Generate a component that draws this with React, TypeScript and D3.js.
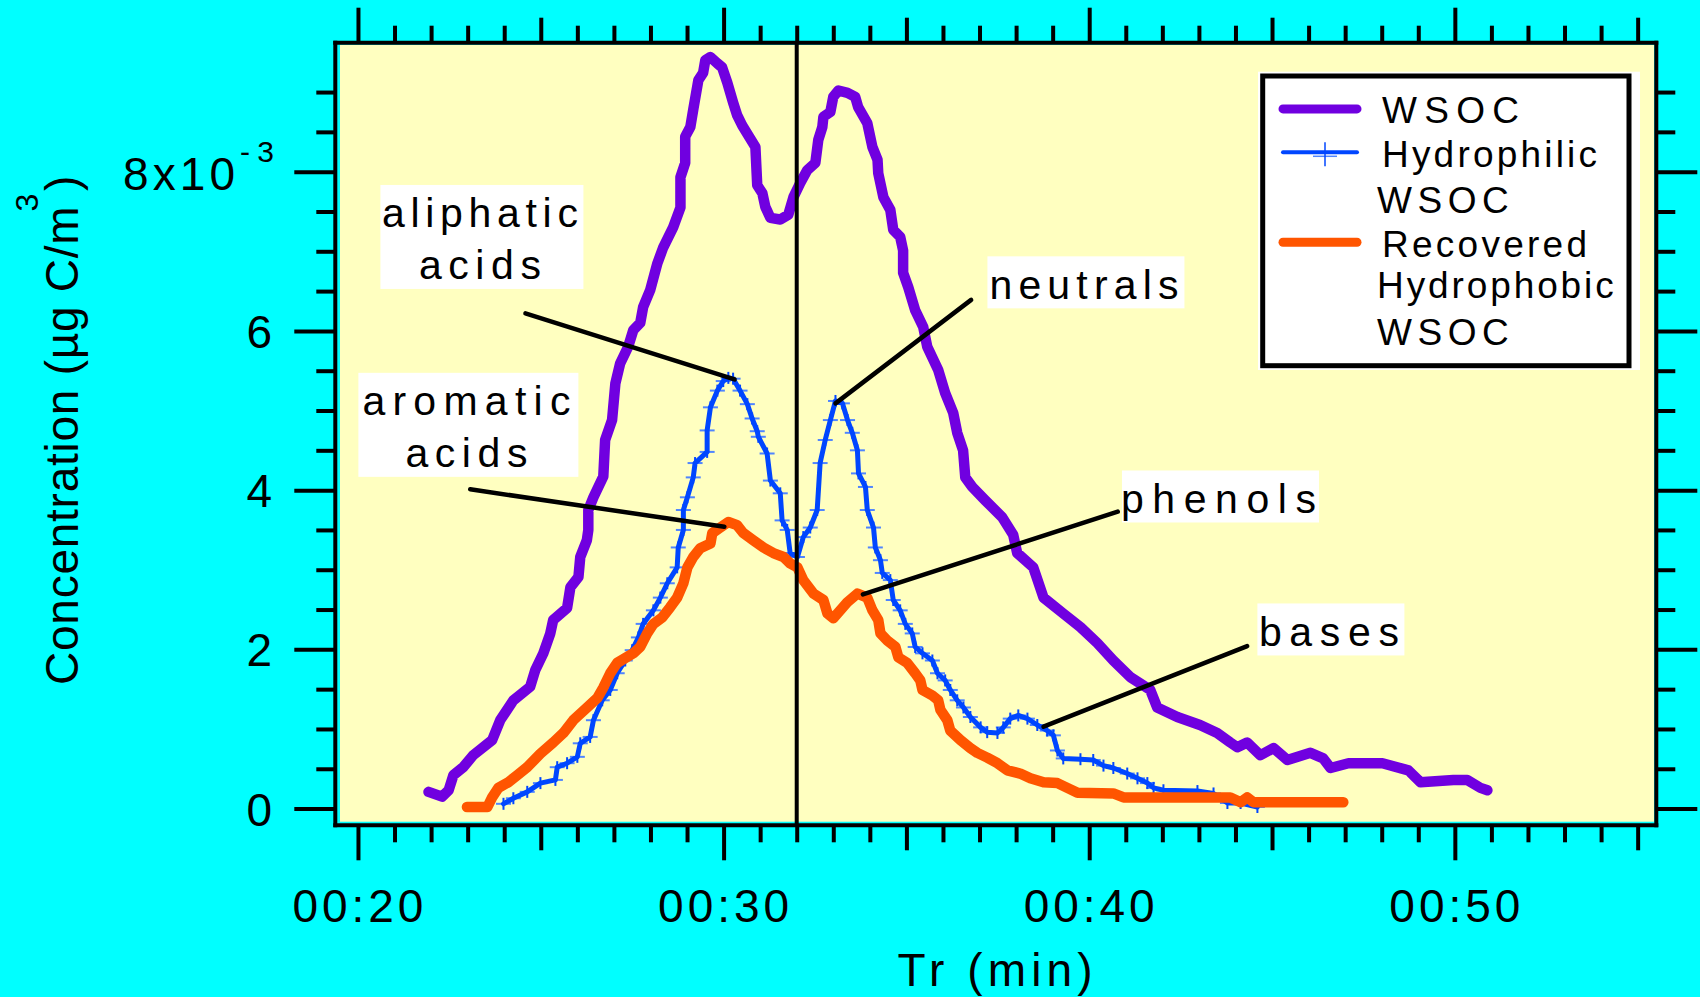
import { useEffect, useRef } from "react";
import * as d3 from "d3";

// Tr (min) vs concentration (x10^-3 µg C/m3)
const wsoc: [number, number][] = [
  [21.93, 0.21], [22.3, 0.15], [22.48, 0.23], [22.61, 0.42], [22.88, 0.52], [23.15, 0.67], [23.67, 0.86],
  [23.89, 1.11], [24.25, 1.36], [24.71, 1.53], [24.85, 1.74], [25.07, 1.95], [25.26, 2.2], [25.34, 2.37],
  [25.72, 2.52], [25.81, 2.78], [26.03, 2.91], [26.08, 3.16], [26.26, 3.37], [26.3, 3.5], [26.3, 3.75],
  [26.44, 3.91], [26.71, 4.17], [26.76, 4.63], [26.95, 4.88], [27.04, 5.34], [27.17, 5.59], [27.39, 5.8],
  [27.53, 6.01], [27.72, 6.1], [27.8, 6.3], [27.99, 6.51], [28.19, 6.85], [28.35, 7.05], [28.62, 7.3],
  [28.82, 7.55], [28.82, 7.93], [28.95, 8.11], [28.95, 8.44], [29.09, 8.56], [29.17, 8.78], [29.31, 9.15],
  [29.44, 9.24], [29.5, 9.4], [29.64, 9.44], [29.83, 9.36], [29.96, 9.31], [30.1, 9.12], [30.26, 8.87],
  [30.37, 8.71], [30.51, 8.58], [30.87, 8.31], [30.92, 7.83], [31.06, 7.73], [31.14, 7.56], [31.28, 7.42],
  [31.55, 7.4], [31.77, 7.46], [31.91, 7.68], [32.1, 7.86], [32.29, 8.02], [32.51, 8.11], [32.59, 8.4],
  [32.7, 8.56], [32.73, 8.69], [32.92, 8.75], [33.0, 8.94], [33.14, 9.02], [33.39, 8.99], [33.6, 8.94],
  [33.68, 8.81], [33.93, 8.61], [34.07, 8.31], [34.21, 8.15], [34.23, 7.98], [34.37, 7.68], [34.56, 7.52],
  [34.64, 7.27], [34.83, 7.18], [34.91, 7.01], [34.91, 6.73], [35.05, 6.55], [35.24, 6.26], [35.46, 6.05],
  [35.57, 5.8], [35.87, 5.51], [36.06, 5.22], [36.28, 4.97], [36.39, 4.72], [36.55, 4.5], [36.61, 4.16],
  [36.8, 4.04], [37.16, 3.87], [37.62, 3.66], [37.92, 3.44], [38.03, 3.21], [38.47, 3.03], [38.75, 2.65],
  [39.29, 2.45], [39.76, 2.28], [40.22, 2.08], [40.66, 1.86], [41.13, 1.65], [41.67, 1.49], [41.86, 1.27],
  [42.41, 1.15], [43.03, 1.05], [43.5, 0.95], [43.86, 0.83], [44.05, 0.77], [44.32, 0.83], [44.68, 0.67],
  [45.04, 0.76], [45.42, 0.61], [46.05, 0.7], [46.4, 0.63], [46.6, 0.51], [47.09, 0.57], [48.02, 0.57],
  [48.73, 0.48], [49.06, 0.33], [49.96, 0.36], [50.34, 0.36], [50.7, 0.26], [50.89, 0.23],
];

const hydrophilic: [number, number][] = [
  [23.98, 0.06], [24.25, 0.13], [24.63, 0.21], [24.99, 0.32], [25.4, 0.36], [25.45, 0.52], [25.72, 0.57],
  [26.0, 0.65], [26.08, 0.82], [26.35, 0.9], [26.44, 1.11], [26.68, 1.36], [26.9, 1.49], [27.09, 1.7],
  [27.31, 1.86], [27.5, 1.99], [27.67, 2.15], [27.8, 2.32], [28.08, 2.49], [28.27, 2.65], [28.46, 2.83],
  [28.73, 3.03], [28.76, 3.28], [28.9, 3.5], [28.9, 3.75], [29.01, 3.91], [29.17, 4.16], [29.22, 4.34],
  [29.55, 4.48], [29.55, 4.75], [29.64, 5.04], [29.83, 5.25], [29.99, 5.37], [30.13, 5.41], [30.26, 5.4],
  [30.45, 5.25], [30.65, 5.08], [30.78, 4.9], [30.92, 4.74], [30.95, 4.67], [31.19, 4.46], [31.28, 4.12],
  [31.55, 3.96], [31.6, 3.62], [31.74, 3.5], [31.82, 3.21], [32.02, 3.16], [32.18, 3.41], [32.37, 3.53],
  [32.56, 3.75], [32.64, 4.34], [32.78, 4.63], [32.92, 4.88], [33.06, 5.12], [33.25, 5.09], [33.39, 4.88],
  [33.52, 4.72], [33.66, 4.5], [33.69, 4.21], [33.88, 4.04], [33.93, 3.75], [34.1, 3.53], [34.15, 3.28],
  [34.29, 3.12], [34.34, 2.96], [34.56, 2.87], [34.64, 2.62], [34.83, 2.49], [34.97, 2.32], [35.16, 2.2],
  [35.24, 2.03], [35.44, 1.95], [35.71, 1.86], [35.85, 1.7], [36.06, 1.61], [36.2, 1.49], [36.39, 1.36],
  [36.56, 1.27], [36.75, 1.15], [37.03, 1.02], [37.21, 0.96], [37.49, 0.95], [37.65, 1.02], [37.84, 1.13],
  [38.06, 1.17], [38.31, 1.13], [38.58, 1.05], [38.85, 0.98], [39.02, 0.92], [39.13, 0.73], [39.29, 0.63],
  [39.76, 0.62], [40.11, 0.61], [40.39, 0.54], [40.66, 0.51], [41.04, 0.44], [41.32, 0.38], [41.59, 0.32],
  [41.76, 0.26], [42.03, 0.23], [42.96, 0.22], [43.4, 0.19], [43.78, 0.07], [44.14, 0.07], [44.6, 0.02],
];

const hydrophobic: [number, number][] = [
  [22.98, 0.02], [23.54, 0.02], [23.67, 0.14], [23.84, 0.26], [24.11, 0.33], [24.36, 0.42], [24.63, 0.52],
  [24.99, 0.69], [25.34, 0.83], [25.62, 0.95], [25.89, 1.11], [26.27, 1.27], [26.55, 1.39], [26.71, 1.52],
  [26.9, 1.7], [27.09, 1.83], [27.53, 1.95], [27.72, 2.03], [27.91, 2.2], [28.08, 2.32], [28.32, 2.4],
  [28.54, 2.53], [28.73, 2.65], [28.9, 2.83], [29.01, 3.03], [29.17, 3.16], [29.36, 3.27], [29.64, 3.33],
  [29.69, 3.46], [29.91, 3.53], [30.13, 3.6], [30.37, 3.56], [30.54, 3.46], [30.81, 3.37], [31.09, 3.28],
  [31.36, 3.21], [31.64, 3.16], [31.82, 3.08], [32.02, 3.03], [32.18, 2.87], [32.46, 2.7], [32.73, 2.62],
  [32.84, 2.45], [33.0, 2.39], [33.19, 2.49], [33.38, 2.59], [33.66, 2.7], [33.93, 2.65], [34.07, 2.49],
  [34.23, 2.37], [34.29, 2.2], [34.48, 2.11], [34.7, 2.03], [34.78, 1.9], [35.02, 1.83], [35.24, 1.7],
  [35.38, 1.61], [35.44, 1.49], [35.71, 1.42], [35.87, 1.36], [35.93, 1.24], [36.12, 1.11], [36.2, 0.98],
  [36.48, 0.86], [36.75, 0.76], [36.94, 0.7], [37.21, 0.64], [37.49, 0.57], [37.76, 0.48], [38.11, 0.44],
  [38.39, 0.38], [38.75, 0.33], [39.13, 0.32], [39.4, 0.26], [39.68, 0.2], [40.66, 0.19], [40.94, 0.14],
  [42.5, 0.14], [43.86, 0.14], [44.14, 0.08], [44.32, 0.14], [44.49, 0.08], [46.95, 0.08],
];

const xMajor = [20, 30, 40, 50];
const xMid = [25, 35, 45, 55];
const xLabels = ["00:20", "00:30", "00:40", "00:50"];
const yMajor = [0, 2, 4, 6, 8];
const yLabels = ["0", "2", "4", "6", "8x10"];
const yExponent = "-3";
const splitTime = 32;

const legendNames = [["WSOC"], ["Hydrophilic", "WSOC"], ["Recovered", "Hydrophobic", "WSOC"]];

// label centre, leader start and leader tip, in data units
const notes = [
  { lines: ["aliphatic", "acids"], at: [23.39, 7.18], from: [24.58, 6.22], to: [30.3, 5.39] },
  { lines: ["aromatic", "acids"], at: [23.02, 4.82], from: [23.07, 4.01], to: [30.02, 3.54] },
  { lines: ["neutrals"], at: [39.91, 6.61], from: [36.77, 6.39], to: [33.06, 5.09] },
  { lines: ["phenols"], at: [43.59, 3.92], from: [40.78, 3.73], to: [33.81, 2.69] },
  { lines: ["bases"], at: [46.61, 2.25], from: [44.32, 2.04], to: [38.75, 1.03] },
];
const noteBoxW = [203, 220, 197, 197, 147];
const noteTextW = [[196, 122], [208, 122], [189], [195], [140]];

const PURPLE = "#7000e0";
const BLUE = "#0046ff";
const MARK = "#4f85ff";
const ORANGE = "#ff5500";

function App() {
  const ref = useRef<SVGSVGElement>(null);

  useEffect(() => {
    const svg = d3.select(ref.current);
    svg.selectAll("*").remove();

    const x = d3.scaleLinear().domain([19.38, 55.51]).range([335.3, 1656.3]);
    const y = d3.scaleLinear().domain([-0.21, 9.62]).range([825.3, 42.7]);
    const [left, right] = x.range();
    const [bottom, top] = y.range();

    svg.append("rect").attr("width", 1700).attr("height", 997).attr("fill", "#00ffff");
    svg.append("rect").attr("x", 340).attr("y", 45).attr("width", 1314).attr("height", 776.7).attr("fill", "#ffffc0");

    const line = d3
      .line<[number, number]>()
      .x((d) => x(d[0]))
      .y((d) => y(d[1]));

    const curve = (data: [number, number][], color: string, w: number) =>
      svg
        .append("path")
        .datum(data)
        .attr("d", line)
        .attr("fill", "none")
        .attr("stroke", color)
        .attr("stroke-width", w)
        .attr("stroke-linejoin", "round")
        .attr("stroke-linecap", "round");

    curve(wsoc, PURPLE, 10.5);

    // "+" markers on the hydrophilic trace
    const marks = svg.append("g").attr("stroke-width", 2);
    marks
      .selectAll("line.h")
      .data(hydrophilic)
      .enter()
      .append("line")
      .attr("x1", (d) => x(d[0]) - 7.5)
      .attr("x2", (d) => x(d[0]) + 7.5)
      .attr("y1", (d) => y(d[1]))
      .attr("y2", (d) => y(d[1]))
      .attr("stroke", MARK);
    marks
      .selectAll("line.v")
      .data(hydrophilic)
      .enter()
      .append("line")
      .attr("x1", (d) => x(d[0]))
      .attr("x2", (d) => x(d[0]))
      .attr("y1", (d) => y(d[1]) - 6)
      .attr("y2", (d) => y(d[1]) + 6)
      .attr("stroke", BLUE);

    curve(hydrophilic, BLUE, 5);
    curve(hydrophobic, ORANGE, 10.5);

    svg
      .append("line")
      .attr("x1", x(splitTime))
      .attr("x2", x(splitTime))
      .attr("y1", top)
      .attr("y2", bottom)
      .attr("stroke", "#000")
      .attr("stroke-width", 4);

    // annotations
    notes.forEach((n, i) => {
      svg
        .append("line")
        .attr("x1", x(n.from[0]))
        .attr("y1", y(n.from[1]))
        .attr("x2", x(n.to[0]))
        .attr("y2", y(n.to[1]))
        .attr("stroke", "#000")
        .attr("stroke-width", 4.5)
        .attr("stroke-linecap", "round");
      const cx = x(n.at[0]);
      const h = 52 * n.lines.length;
      const boxTop = y(n.at[1]) - h / 2;
      svg
        .append("rect")
        .attr("x", cx - noteBoxW[i] / 2)
        .attr("y", boxTop)
        .attr("width", noteBoxW[i])
        .attr("height", h)
        .attr("fill", "#fff");
      n.lines.forEach((t, j) => {
        svg
          .append("text")
          .attr("x", cx - 2)
          .attr("y", boxTop + 42.5 + 52 * j)
          .attr("text-anchor", "middle")
          .attr("font-size", 41)
          .attr("textLength", noteTextW[i][j])
          .attr("lengthAdjust", "spacing")
          .text(t);
      });
    });

    // legend
    const lg = svg.append("g");
    lg.append("rect").attr("x", 1258).attr("y", 71.7).attr("width", 382).attr("height", 298.3).attr("fill", "#fff");
    lg.append("rect")
      .attr("x", 1262.7)
      .attr("y", 76)
      .attr("width", 366.3)
      .attr("height", 289.7)
      .attr("fill", "none")
      .attr("stroke", "#000")
      .attr("stroke-width", 5);
    const baselines = [123.3, 166.7, 213.3, 256.7, 298.3, 345];
    const widths = [137, 215, 131.7, 205, 236.7, 131.7];
    const colors = [PURPLE, BLUE, ORANGE];
    const lineW = [9, 4, 9];
    let row = 0;
    legendNames.forEach((names, k) => {
      const ly = baselines[row] - 14.4;
      lg.append("line")
        .attr("x1", 1283)
        .attr("x2", 1357)
        .attr("y1", ly)
        .attr("y2", ly)
        .attr("stroke", colors[k])
        .attr("stroke-width", lineW[k])
        .attr("stroke-linecap", "round");
      if (k === 1) {
        lg.append("line").attr("x1", 1313).attr("x2", 1337).attr("y1", ly + 4).attr("y2", ly + 4).attr("stroke", MARK).attr("stroke-width", 1.5);
        lg.append("line").attr("x1", 1325).attr("x2", 1325).attr("y1", ly - 10).attr("y2", ly + 14).attr("stroke", BLUE).attr("stroke-width", 1.5);
      }
      names.forEach((t, j) => {
        lg.append("text")
          .attr("x", j === 0 ? 1382 : 1377)
          .attr("y", baselines[row])
          .attr("font-size", 37)
          .attr("textLength", widths[row])
          .attr("lengthAdjust", "spacing")
          .text(t);
        row++;
      });
    });

    // frame
    const frame = svg.append("g").attr("stroke", "#000").attr("stroke-width", 4);
    frame.append("line").attr("x1", left).attr("x2", left).attr("y1", top - 2).attr("y2", bottom + 2);
    frame.append("line").attr("x1", right).attr("x2", right).attr("y1", top - 2).attr("y2", bottom + 2);
    frame.append("line").attr("x1", left - 2).attr("x2", right + 2).attr("y1", top).attr("y2", top);
    frame.append("line").attr("x1", left - 2).attr("x2", right + 2).attr("y1", bottom).attr("y2", bottom);

    // ticks on all four sides
    const bare = (g: any) => {
      g.select(".domain").remove();
      g.selectAll("text").remove();
      g.selectAll("line").attr("stroke", "#000").attr("stroke-width", 4);
    };
    const xMinor = d3.range(20, 56).filter((t) => t % 5 !== 0);
    const yMinor = d3.range(0.5, 9.01, 0.5).filter((v) => v % 2 !== 0);
    const xSets: [number[], number][] = [[xMajor, 35], [xMid, 25], [xMinor, 17]];
    xSets.forEach(([vals, len]) => {
      svg.append("g").attr("transform", `translate(0,${bottom})`)
        .call(d3.axisBottom(x).tickValues(vals).tickSize(len).tickFormat(() => "")).call(bare);
      svg.append("g").attr("transform", `translate(0,${top})`)
        .call(d3.axisTop(x).tickValues(vals).tickSize(len).tickFormat(() => "")).call(bare);
    });
    const ySets: [number[], number][] = [[yMajor, 41], [yMinor, 19]];
    ySets.forEach(([vals, len]) => {
      svg.append("g").attr("transform", `translate(${left},0)`)
        .call(d3.axisLeft(y).tickValues(vals).tickSize(len).tickFormat(() => "")).call(bare);
      svg.append("g").attr("transform", `translate(${right},0)`)
        .call(d3.axisRight(y).tickValues(vals).tickSize(len).tickFormat(() => "")).call(bare);
    });

    // tick labels
    svg
      .selectAll("text.xl")
      .data(xMajor)
      .enter()
      .append("text")
      .attr("x", (d) => x(d))
      .attr("y", 921.7)
      .attr("text-anchor", "middle")
      .attr("font-size", 46)
      .attr("textLength", 131)
      .attr("lengthAdjust", "spacing")
      .text((d, i) => xLabels[i]);

    svg
      .selectAll("text.yl")
      .data(yMajor.slice(0, 4))
      .enter()
      .append("text")
      .attr("x", 272)
      .attr("y", (d) => y(d) + 17)
      .attr("text-anchor", "end")
      .attr("font-size", 46)
      .text((d, i) => yLabels[i]);
    svg.append("text")
      .attr("x", 123)
      .attr("y", y(8) + 18)
      .attr("font-size", 46)
      .attr("textLength", 112)
      .attr("lengthAdjust", "spacing")
      .text(yLabels[4]);
    svg.append("text")
      .attr("x", 240)
      .attr("y", y(8) - 10)
      .attr("font-size", 30)
      .attr("textLength", 34)
      .attr("lengthAdjust", "spacing")
      .text(yExponent);

    // axis titles
    svg.append("text")
      .attr("x", 995)
      .attr("y", 986)
      .attr("text-anchor", "middle")
      .attr("font-size", 46)
      .attr("textLength", 195)
      .attr("lengthAdjust", "spacing")
      .text("Tr (min)");

    const yt = svg
      .append("text")
      .attr("transform", "translate(78,685) rotate(-90)")
      .attr("font-size", 46)
      .style("letter-spacing", "0.75px");
    yt.append("tspan").text("Concentration (µg C/m");
    yt.append("tspan").attr("dy", -40).attr("dx", -6).attr("font-size", 32).text("3");
    yt.append("tspan").attr("dy", 40).attr("dx", 2).text(")");
  }, []);

  return (
    <svg
      ref={ref}
      width={1700}
      height={997}
      style={{ position: "absolute", left: 0, top: 0, display: "block" }}
      fontFamily="'Liberation Sans', Arial, Helvetica, sans-serif"
    />
  );
}

export default App;
